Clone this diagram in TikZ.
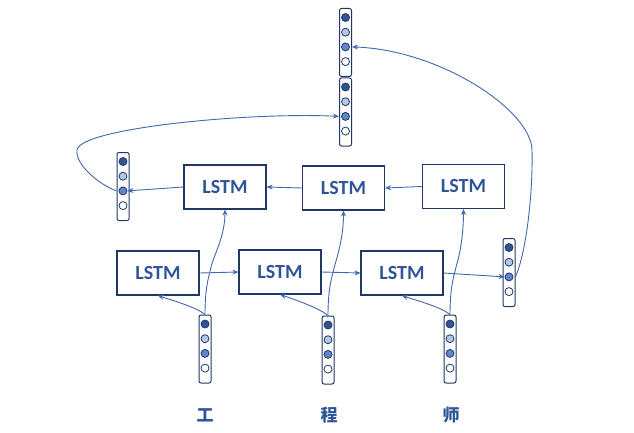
\documentclass[tikz,border=0pt]{standalone}
\usepackage{fontspec}
\setmainfont{Carlito}
\newfontfamily\cjk{Noto Sans CJK SC}
\usetikzlibrary{arrows.meta,calc}
\definecolor{boxline}{HTML}{203864}
\definecolor{wireblue}{HTML}{4068AE}
\definecolor{ink}{HTML}{2F5597}
\definecolor{dotdark}{HTML}{2F5597}
\definecolor{dotlight}{HTML}{B4C7E7}
\definecolor{dotmid}{HTML}{6185CC}
\tikzset{
  lstm/.style={draw=boxline, line width=1.1pt, minimum width=82pt, minimum height=44pt,
    inner sep=0pt, text=ink, font=\fontsize{20}{24}\selectfont\bfseries},
  vecbox/.style={draw=boxline, line width=1pt, rounded corners=2pt, minimum width=12pt,
    minimum height=68pt, inner sep=0pt},
  dot/.style={circle, draw=boxline, line width=0.8pt, minimum size=8pt, inner sep=0pt},
  wire/.style={draw=wireblue, line width=0.9pt},
  link/.style={wire, -{Stealth[length=6pt,width=5pt]}},
  char/.style={text=ink, font=\cjk\fontsize{17}{20}\selectfont\bfseries},
}
\newcommand{\embed}[3]{%
  % name, x, y of the centre of one word vector.
  \node[vecbox] (#1) at (#2,#3) {};
  \foreach \tone [count=\i] in {dotdark,dotlight,dotmid,white}{%
    \node[dot, fill=\tone] (#1-\i) at ($(#1.center)+(0,{-39.7+14.7*\i})$) {};
  }
}

\begin{document}
\begin{tikzpicture}[x=1pt,y=-1pt]
  \useasboundingbox (0,0) rectangle (634,433);
  % forward row
  \node[lstm] (fwd1) at (158,273) {LSTM};
  \node[lstm] (fwd2) at (280,272) {LSTM};
  \node[lstm] (fwd3) at (402,273) {LSTM};
  % backward row
  \node[lstm] (bwd1) at (225,187) {LSTM};
  \node[lstm] (bwd2) at (343.5,188) {LSTM};
  \node[lstm] (bwd3) at (463.5,186.5) {LSTM};
  % word vectors
  \embed{x1}{205}{349}
  \embed{x2}{328}{350}
  \embed{x3}{450}{349}
  \embed{hb}{123}{186.5}
  \embed{hf}{509}{272.5}
  \embed{catf}{345.5}{42.5}
  \embed{catb}{345.5}{112}
  % characters
  \node[char] (w1) at (205,415) {工};
  \node[char] (w2) at (329,415) {程};
  \node[char] (w3) at (451,415) {师};
  % inputs into both rows
  \foreach \k in {1,2,3}{%
    \draw[link] (x\k.north) .. controls +(-8,-7) and +(15,5) .. (fwd\k.south);
    \draw[link] (x\k.north) .. controls +(0,-25) and +(-4,15) .. ($(x\k.north)+(7,-51)$)
      .. controls +(3,-10) and +(0,25) .. (bwd\k.south);
  }
  % recurrent links
  \draw[link] (fwd1.east) -- (fwd2.west);
  \draw[link] (fwd2.east) -- (fwd3.west);
  \draw[link] (fwd3.east) -- (hf-3.west);
  \draw[link] (bwd3.west) -- (bwd2.east);
  \draw[link] (bwd2.west) -- (bwd1.east);
  \draw[link] (bwd1.west) -- (hb-3.east);
  % final states up to the concatenation
  \draw[link] (hb-3 -| hb.west) .. controls (100,185) and (75,165) .. (77,150)
    .. controls (80,128) and (250,112) .. (catb-3 -| catb.west);
  \draw[link] (hf-3 -| hf.east) .. controls (527,250) and (533,190) .. (532,150)
    .. controls (531,110) and (440,50) .. (catf-3 -| catf.east);
\end{tikzpicture}
\end{document}
